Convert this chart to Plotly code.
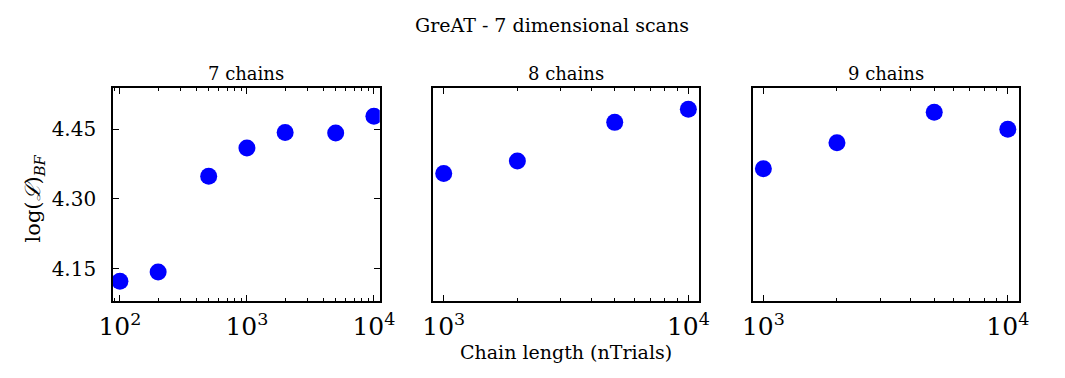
import plotly.graph_objects as go

# ---- data ----
chains_titles = ["7 chains", "8 chains", "9 chains"]
x7 = [100, 200, 500, 1000, 2000, 5000, 10000]
y7 = [4.123, 4.143, 4.349, 4.410, 4.443, 4.442, 4.478]
x8 = [1000, 2000, 5000, 10000]
y8 = [4.355, 4.382, 4.465, 4.493]
x9 = [1000, 2000, 5000, 10000]
y9 = [4.365, 4.421, 4.487, 4.450]
ytick_vals = [4.15, 4.30, 4.45]
ytick_text = ["4.15", "4.30", "4.45"]

W, H = 1065, 378
FONT = "DejaVu Serif"

fig = go.Figure()

xdomains = [(101.7 / W, 376 / W), (430.7 / W, 704.3 / W), (759.3 / W, 1032.7 / W)]
ydomain = (1 - 300.7 / H, 1 - 88 / H)
xranges = [(1.945, 4.046), (2.956, 4.044), (2.956, 4.044)]
yrange = (4.081, 4.539)

series = [(x7, y7), (x8, y8), (x9, y9)]
for i, (xs, ys) in enumerate(series):
    xa = "x" if i == 0 else f"x{i+1}"
    ya = "y" if i == 0 else f"y{i+1}"
    fig.add_trace(go.Scatter(x=xs, y=ys, mode="markers", xaxis=xa, yaxis=ya,
                             marker=dict(color="#0000ff", size=17, line=dict(width=0)),
                             showlegend=False))

layout = dict(
    width=W, height=H,
    margin=dict(l=0, r=0, t=0, b=0),
    paper_bgcolor="white", plot_bgcolor="white",
    font=dict(family=FONT, size=18, color="black"),
)
for i in range(3):
    xk = "xaxis" if i == 0 else f"xaxis{i+1}"
    yk = "yaxis" if i == 0 else f"yaxis{i+1}"
    layout[xk] = dict(
        type="log", domain=list(xdomains[i]), range=list(xranges[i]),
        anchor="y" if i == 0 else f"y{i+1}",
        showline=True, linecolor="black", linewidth=1.5, mirror="allticks",
        ticks="inside", ticklen=6, tickwidth=1, tickcolor="black",
        dtick=1, exponentformat="power", showgrid=False, zeroline=False,
        tickfont=dict(family=FONT, size=20), ticklabelstandoff=4,
        minor=dict(ticks="inside", ticklen=3, tickwidth=1, tickcolor="black", dtick="D1", showgrid=False),
    )
    ydict = dict(
        domain=list(ydomain), range=list(yrange),
        anchor="x" if i == 0 else f"x{i+1}",
        showline=True, linecolor="black", linewidth=1.5, showgrid=False, zeroline=False,
    )
    if i == 0:
        ydict.update(mirror="allticks", ticks="inside", ticklen=6, tickwidth=1, tickcolor="black",
                     tickvals=ytick_vals, ticktext=ytick_text, tickfont=dict(family=FONT, size=20),
                     ticklabelstandoff=11)
    else:
        ydict.update(mirror=True, ticks="", showticklabels=False)
    layout[yk] = ydict

annotations = [
    dict(text="GreAT - 7 dimensional scans", x=553 / W, y=1 - 25 / H, xref="paper", yref="paper",
         showarrow=False, font=dict(family=FONT, size=19), xanchor="center", yanchor="middle"),
    dict(text="Chain length (nTrials)", x=567 / W, y=1 - 352 / H, xref="paper", yref="paper",
         showarrow=False, font=dict(family=FONT, size=19), xanchor="center", yanchor="middle"),
    dict(text="log(<i>ℒ</i>)<sub><i>BF</i></sub>", x=21 / W, y=1 - 198 / H, xref="paper", yref="paper",
         showarrow=False, font=dict(family=FONT, size=21), textangle=-90, xanchor="center", yanchor="middle"),
]
for i, t in enumerate(chains_titles):
    cx = (xdomains[i][0] + xdomains[i][1]) / 2
    annotations.append(dict(text=t, x=cx, y=1 - 73 / H, xref="paper", yref="paper", showarrow=False,
                            font=dict(family=FONT, size=18), xanchor="center", yanchor="middle"))
layout["annotations"] = annotations

fig.update_layout(**layout)
fig.write_html("out.html")
